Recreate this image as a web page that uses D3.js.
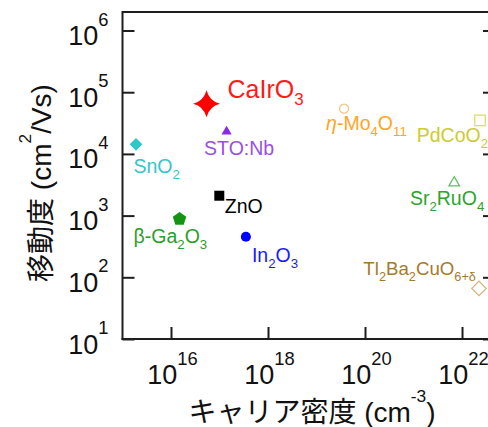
<!DOCTYPE html>
<html>
<head>
<meta charset="utf-8">
<script src="https://cdn.jsdelivr.net/npm/d3@7"></script>
<style>
  html, body { margin: 0; padding: 0; background: #fff; }
  svg { display: block; }
  text { font-family: "Liberation Sans", Arial, "Noto Sans CJK JP", sans-serif; }
</style>
</head>
<body>
<svg id="chart" width="488" height="427"></svg>
<script>
// ---- data ----
const materials = ["CaIrO_{3}", "STO:Nb", "SnO_{2}", "ZnO", "β-Ga_{2}O_{3}", "In_{2}O_{3}",
                   "η-Mo_{4}O_{11}", "PdCoO_{2}", "Sr_{2}RuO_{4}", "Tl_{2}Ba_{2}CuO_{6+δ}"];
const carrierDensity = [5.4e16, 1.4e17, 1.9e15, 9.9e16, 1.5e16, 3.5e17, 3.7e19, 2.35e22, 6.9e21, 2.24e22];
const mobility = [6.5e4, 2.3e4, 1.43e4, 2.1e3, 8.8e2, 4.55e2, 5.4e4, 3.5e4, 3.4e3, 66];
const xTickExponents = [16, 18, 20, 22];
const yTickExponents = [1, 2, 3, 4, 5, 6];
const xTitle = "キャリア密度 (cm^{-3})";
const yTitle = "移動度 (cm^{2}/Vs)";

// ---- styles (not data) ----
const custom4Star = {
  draw(ctx, size) {
    const R = Math.sqrt(size) * 0.5, c = R * 0.2;
    ctx.moveTo(0, -R);
    ctx.quadraticCurveTo(c, -c, R, 0);
    ctx.quadraticCurveTo(c, c, 0, R);
    ctx.quadraticCurveTo(-c, c, -R, 0);
    ctx.quadraticCurveTo(-c, -c, 0, -R);
    ctx.closePath();
  }
};
const pentagon = {
  draw(ctx, size) {
    const R = Math.sqrt(size) * 0.5;
    for (let i = 0; i < 5; i++) {
      const a = -Math.PI / 2 + i * 2 * Math.PI / 5;
      const px = R * Math.cos(a), py = R * Math.sin(a);
      if (i === 0) ctx.moveTo(px, py); else ctx.lineTo(px, py);
    }
    ctx.closePath();
  }
};
const styles = [
  {sym: custom4Star, size: 729, fill: "#ff0000", stroke: "none", rot: 0, label: "#ff1a1a", fs: 25, dx: 21, dy: -6},
  {sym: d3.symbolTriangle, size: 45, fill: "#8a2be2", stroke: "none", rot: 0, label: "#9a4fe6", fs: 19.5, dx: -22.5, dy: 23},
  {sym: d3.symbolSquare, size: 80, fill: "#2ec8c8", stroke: "none", rot: 45, label: "#33c6cc", fs: 19.5, dx: -2.5, dy: 28.5},
  {sym: d3.symbolSquare, size: 100, fill: "#000000", stroke: "none", rot: 0, label: "#000000", fs: 19.5, dx: 5.5, dy: 17.5},
  {sym: pentagon, size: 200, fill: "#139413", stroke: "none", rot: 0, label: "#2a9e2a", fs: 19.5, dx: -46, dy: 24},
  {sym: d3.symbolCircle, size: 80, fill: "#0000ff", stroke: "none", rot: 0, label: "#1a1aff", fs: 19.5, dx: 6, dy: 25},
  {sym: d3.symbolCircle, size: 64, fill: "none", stroke: "#f6c47e", rot: 0, label: "#ffa51f", fs: 19.5, dx: -18, dy: 21},
  {sym: d3.symbolSquare, size: 110, fill: "none", stroke: "#dcdc62", rot: 0, label: "#cccc2e", fs: 19.5, dx: -63.3, dy: 21.7},
  {sym: d3.symbolTriangle, size: 50, fill: "none", stroke: "#5fbf5f", rot: 0, label: "#2ea32e", fs: 19.5, dx: -44.3, dy: 22.3},
  {sym: d3.symbolSquare, size: 105, fill: "none", stroke: "#d8b37c", rot: 45, label: "#a47b2c", fs: 18.7, dx: -115.7, dy: -13.3}
];

// ---- layout ----
const svg = d3.select("#chart");
const pLeft = 122.5, pRight = 495, pTop = 12, pBottom = 339;
const x = d3.scaleLog().domain([1e15, Math.pow(10, 22.68)]).range([pLeft, pRight]);
const y = d3.scaleLog().domain([10, Math.pow(10, 6.3)]).range([pBottom, pTop]);

// helper: render text with _{sub} and ^{sup}
function richText(sel, str, fs, supScale) {
  const re = /([_^])\{([^}]*)\}/g;
  let last = 0, m;
  const parts = [];
  while ((m = re.exec(str)) !== null) {
    if (m.index > last) parts.push({t: str.slice(last, m.index), k: ""});
    parts.push({t: m[2], k: m[1]});
    last = re.lastIndex;
  }
  if (last < str.length) parts.push({t: str.slice(last), k: ""});
  let cur = 0;
  parts.forEach(p => {
    let target = 0, size = fs;
    if (p.k === "_") { target = fs * 0.3; size = fs * 0.68; }
    if (p.k === "^") { target = -fs * 0.72; size = fs * (supScale || 0.65); }
    const ts = sel.append("tspan").attr("font-size", size).attr("dy", target - cur);
    cur = target;
    if (p.t.startsWith("η")) {
      ts.append("tspan").attr("font-style", "italic").text("η");
      ts.append("tspan").text(p.t.slice(1));
    } else ts.text(p.t);
  });
}

// frame lines
const lineColor = "#1e1e1e";
svg.append("line").attr("x1", pLeft).attr("x2", pRight).attr("y1", pTop).attr("y2", pTop)
  .attr("stroke", lineColor).attr("stroke-width", 2);

// axes
const yTickVals = yTickExponents.map(e => Math.pow(10, e));
const xTickVals = xTickExponents.map(e => Math.pow(10, e));
const gR = svg.append("g").attr("transform", `translate(${pRight},0)`)
  .call(d3.axisRight(y).tickValues(yTickVals).tickSize(-12).tickFormat(""));
const gL = svg.append("g").attr("transform", `translate(${pLeft},0)`)
  .call(d3.axisLeft(y).tickValues(yTickVals).tickSize(-12).tickPadding(14).tickFormat(""));
const gB = svg.append("g").attr("transform", `translate(0,${pBottom})`)
  .call(d3.axisBottom(x).tickValues(xTickVals).tickSize(-12).tickFormat(""));

[gR, gL, gB].forEach(g => {
  g.select(".domain").attr("stroke", lineColor).attr("stroke-width", 2);
  g.selectAll(".tick line").attr("stroke", lineColor).attr("stroke-width", 2);
  g.selectAll(".tick text").remove();
});
gR.select(".domain").attr("d", `M0,${pTop}V${pBottom}`);
gL.select(".domain").attr("d", `M0,${pTop - 1}V${pBottom + 1}`);
gB.select(".domain").attr("d", `M${pLeft - 1},0H${pRight}`);

// tick labels
const tickFs = 27;
gL.selectAll(".tick").each(function (d) {
  const t = d3.select(this).append("text").attr("fill", "#111").attr("text-anchor", "end")
    .attr("x", -14).attr("y", 14).attr("font-size", tickFs);
  richText(t, "10^{" + Math.round(Math.log10(d)) + "}", tickFs, 0.68);
});
gB.selectAll(".tick").each(function (d) {
  const t = d3.select(this).append("text").attr("fill", "#111").attr("text-anchor", "middle")
    .attr("x", 1).attr("y", 45).attr("font-size", tickFs);
  richText(t, "10^{" + Math.round(Math.log10(d)) + "}", tickFs, 0.68);
});

// axis titles
const xt = svg.append("text").attr("x", 312).attr("y", 422).attr("text-anchor", "middle")
  .attr("fill", "#111").attr("font-size", 28);
richText(xt, xTitle, 28, 0.62);
const yt = svg.append("text").attr("transform", "translate(51,183) rotate(-90)")
  .attr("text-anchor", "middle").attr("fill", "#111").attr("font-size", 28);
richText(yt, yTitle, 28, 0.62);

// points
const pts = materials.map((m, i) => ({name: m, xv: carrierDensity[i], yv: mobility[i], s: styles[i]}));
const gP = svg.append("g");
gP.selectAll("path").data(pts).join("path")
  .attr("d", d => d3.symbol().type(d.s.sym).size(d.s.size)())
  .attr("transform", d => `translate(${x(d.xv)},${y(d.yv)}) rotate(${d.s.rot})`)
  .attr("fill", d => d.s.fill)
  .attr("stroke", d => d.s.stroke)
  .attr("stroke-width", 1.2);

// labels
gP.selectAll("text.lbl").data(pts).join("text").attr("class", "lbl")
  .attr("x", d => x(d.xv) + d.s.dx)
  .attr("y", d => y(d.yv) + d.s.dy)
  .attr("fill", d => d.s.label)
  .attr("font-size", d => d.s.fs)
  .each(function (d) { richText(d3.select(this), d.name, d.s.fs); });
</script>
</body>
</html>
